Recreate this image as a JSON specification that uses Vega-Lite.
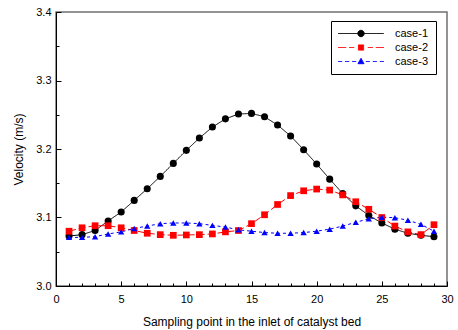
{
  "$schema": "https://vega.github.io/schema/vega-lite/v6.json",
  "width": 391,
  "height": 274,
  "autosize": "none",
  "padding": {"left": 56, "top": 12, "right": 11, "bottom": 44},
  "background": "white",
  "config": {
    "font": "Liberation Sans",
    "view": {"stroke": "#707070", "strokeWidth": 1.5},
    "axis": {"labelFont": "Liberation Sans", "titleFont": "Liberation Sans", "labelColor": "black", "titleColor": "black", "titleFontWeight": "normal", "labelFontSize": 11, "titleFontSize": 12, "domainColor": "black", "tickColor": "black", "grid": false}
  },
  "data": {"values": [
    {"x":1,"v":3.073,"case":"case-1"},{"x":2,"v":3.075,"case":"case-1"},{"x":3,"v":3.081,"case":"case-1"},{"x":4,"v":3.095,"case":"case-1"},{"x":5,"v":3.108,"case":"case-1"},{"x":6,"v":3.125,"case":"case-1"},{"x":7,"v":3.142,"case":"case-1"},{"x":8,"v":3.160,"case":"case-1"},{"x":9,"v":3.179,"case":"case-1"},{"x":10,"v":3.198,"case":"case-1"},{"x":11,"v":3.216,"case":"case-1"},{"x":12,"v":3.232,"case":"case-1"},{"x":13,"v":3.244,"case":"case-1"},{"x":14,"v":3.251,"case":"case-1"},{"x":15,"v":3.252,"case":"case-1"},{"x":16,"v":3.247,"case":"case-1"},{"x":17,"v":3.235,"case":"case-1"},{"x":18,"v":3.219,"case":"case-1"},{"x":19,"v":3.199,"case":"case-1"},{"x":20,"v":3.178,"case":"case-1"},{"x":21,"v":3.156,"case":"case-1"},{"x":22,"v":3.135,"case":"case-1"},{"x":23,"v":3.117,"case":"case-1"},{"x":24,"v":3.103,"case":"case-1"},{"x":25,"v":3.092,"case":"case-1"},{"x":26,"v":3.083,"case":"case-1"},{"x":27,"v":3.077,"case":"case-1"},{"x":28,"v":3.074,"case":"case-1"},{"x":29,"v":3.072,"case":"case-1"},
    {"x":1,"v":3.080,"case":"case-2"},{"x":2,"v":3.085,"case":"case-2"},{"x":3,"v":3.088,"case":"case-2"},{"x":4,"v":3.088,"case":"case-2"},{"x":5,"v":3.085,"case":"case-2"},{"x":6,"v":3.081,"case":"case-2"},{"x":7,"v":3.077,"case":"case-2"},{"x":8,"v":3.075,"case":"case-2"},{"x":9,"v":3.074,"case":"case-2"},{"x":10,"v":3.0745,"case":"case-2"},{"x":11,"v":3.075,"case":"case-2"},{"x":12,"v":3.076,"case":"case-2"},{"x":13,"v":3.079,"case":"case-2"},{"x":14,"v":3.081,"case":"case-2"},{"x":15,"v":3.091,"case":"case-2"},{"x":16,"v":3.104,"case":"case-2"},{"x":17,"v":3.119,"case":"case-2"},{"x":18,"v":3.132,"case":"case-2"},{"x":19,"v":3.139,"case":"case-2"},{"x":20,"v":3.1415,"case":"case-2"},{"x":21,"v":3.140,"case":"case-2"},{"x":22,"v":3.133,"case":"case-2"},{"x":23,"v":3.123,"case":"case-2"},{"x":24,"v":3.112,"case":"case-2"},{"x":25,"v":3.100,"case":"case-2"},{"x":26,"v":3.0875,"case":"case-2"},{"x":27,"v":3.079,"case":"case-2"},{"x":28,"v":3.075,"case":"case-2"},{"x":29,"v":3.0895,"case":"case-2"},
    {"x":1,"v":3.071,"case":"case-3"},{"x":2,"v":3.071,"case":"case-3"},{"x":3,"v":3.072,"case":"case-3"},{"x":4,"v":3.076,"case":"case-3"},{"x":5,"v":3.079,"case":"case-3"},{"x":6,"v":3.084,"case":"case-3"},{"x":7,"v":3.0875,"case":"case-3"},{"x":8,"v":3.091,"case":"case-3"},{"x":9,"v":3.092,"case":"case-3"},{"x":10,"v":3.092,"case":"case-3"},{"x":11,"v":3.091,"case":"case-3"},{"x":12,"v":3.0885,"case":"case-3"},{"x":13,"v":3.086,"case":"case-3"},{"x":14,"v":3.082,"case":"case-3"},{"x":15,"v":3.080,"case":"case-3"},{"x":16,"v":3.078,"case":"case-3"},{"x":17,"v":3.077,"case":"case-3"},{"x":18,"v":3.077,"case":"case-3"},{"x":19,"v":3.078,"case":"case-3"},{"x":20,"v":3.080,"case":"case-3"},{"x":21,"v":3.083,"case":"case-3"},{"x":22,"v":3.0875,"case":"case-3"},{"x":23,"v":3.093,"case":"case-3"},{"x":24,"v":3.098,"case":"case-3"},{"x":25,"v":3.1005,"case":"case-3"},{"x":26,"v":3.0997,"case":"case-3"},{"x":27,"v":3.096,"case":"case-3"},{"x":28,"v":3.090,"case":"case-3"},{"x":29,"v":3.080,"case":"case-3"}
  ]},
  "resolve": {"axis": {"x": "independent", "y": "independent"}},
  "layer": [
    {
      "mark": {"type": "line", "strokeWidth": 1},
      "encoding": {
        "x": {"field": "x", "type": "quantitative", "scale": {"domain": [0, 30], "nice": false},
              "axis": {"orient": "bottom", "values": [0,5,10,15,20,25,30], "tickSize": -5, "labelPadding": 12, "domain": true, "labelFlush": false,
                       "title": "Sampling point in the inlet of catalyst bed", "titlePadding": 12}},
        "y": {"field": "v", "type": "quantitative", "scale": {"domain": [3.0, 3.4], "nice": false, "zero": false},
              "axis": {"orient": "left", "values": [3.0,3.1,3.2,3.3,3.4], "format": ".1f", "tickSize": -5, "labelPadding": 10, "labelFlush": false,
                       "title": "Velocity (m/s)", "titlePadding": 10}},
        "color": {"field": "case", "type": "nominal",
                  "scale": {"domain": ["case-1","case-2","case-3"], "range": ["black","red","blue"]},
                  "legend": {
                    "title": null, "orient": "none", "legendX": 275, "legendY": 9,
                    "strokeColor": "black", "padding": 7, "fillColor": "white",
                    "symbolSize": 100, "symbolOffset": 17.5, "labelOffset": 28.5, "labelFontSize": 11, "labelColor": "black", "labelFont": "Liberation Sans", "rowPadding": 2,
                    "encode": {"symbols": {"update": {
                      "shape": {"signal": "datum.value === 'case-1' ? 'M-4.56,0H4.56M-0.64,0A0.64,0.64,0,1,0,0.64,0A0.64,0.64,0,1,0,-0.64,0Z' : datum.value === 'case-2' ? 'M-4.56,0H-2.96M-2.36,0H-1.36M1.36,0H2.36M2.96,0H4.56M-0.52,-0.52H0.52V0.52H-0.52Z' : 'M-4.56,0H-3.76M-3.16,0H-2.36M-1.76,0H-0.96M0.96,0H1.76M2.36,0H3.16M3.76,0H4.56M0,-0.64L0.6,0.44H-0.6Z'"},
                      "fill": {"signal": "datum.value === 'case-1' ? 'black' : datum.value === 'case-2' ? 'red' : 'blue'"},
                      "stroke": {"signal": "datum.value === 'case-1' ? 'black' : datum.value === 'case-2' ? 'red' : 'blue'"},
                      "strokeWidth": {"value": 1},
                      "strokeDash": {"value": [1, 0]},
                      "size": {"value": 100},
                      "opacity": {"value": 1}
                    }}}
                  }},
        "strokeDash": {"field": "case", "type": "nominal",
                       "scale": {"range": [[1,0],[7,3],[3,3]]}, "legend": null}
      }
    },
    {
      "mark": {"type": "point", "filled": true, "opacity": 1},
      "encoding": {
        "x": {"field": "x", "type": "quantitative",
              "axis": {"orient": "bottom", "values": [1,2,3,4,6,7,8,9,11,12,13,14,16,17,18,19,21,22,23,24,26,27,28,29], "tickSize": -3, "labels": false, "domain": false, "title": null}},
        "y": {"field": "v", "type": "quantitative",
              "axis": {"orient": "left", "values": [3.05,3.15,3.25,3.35], "tickSize": -3, "labels": false, "domain": false, "title": null}},
        "color": {"field": "case", "type": "nominal", "legend": null},
        "shape": {"field": "case", "type": "nominal",
                  "scale": {"range": ["circle","square","triangle-up"]}, "legend": null},
        "size": {"field": "case", "type": "nominal",
                 "scale": {"range": [50, 40, 42]}, "legend": null}
      }
    }
  ]
}
